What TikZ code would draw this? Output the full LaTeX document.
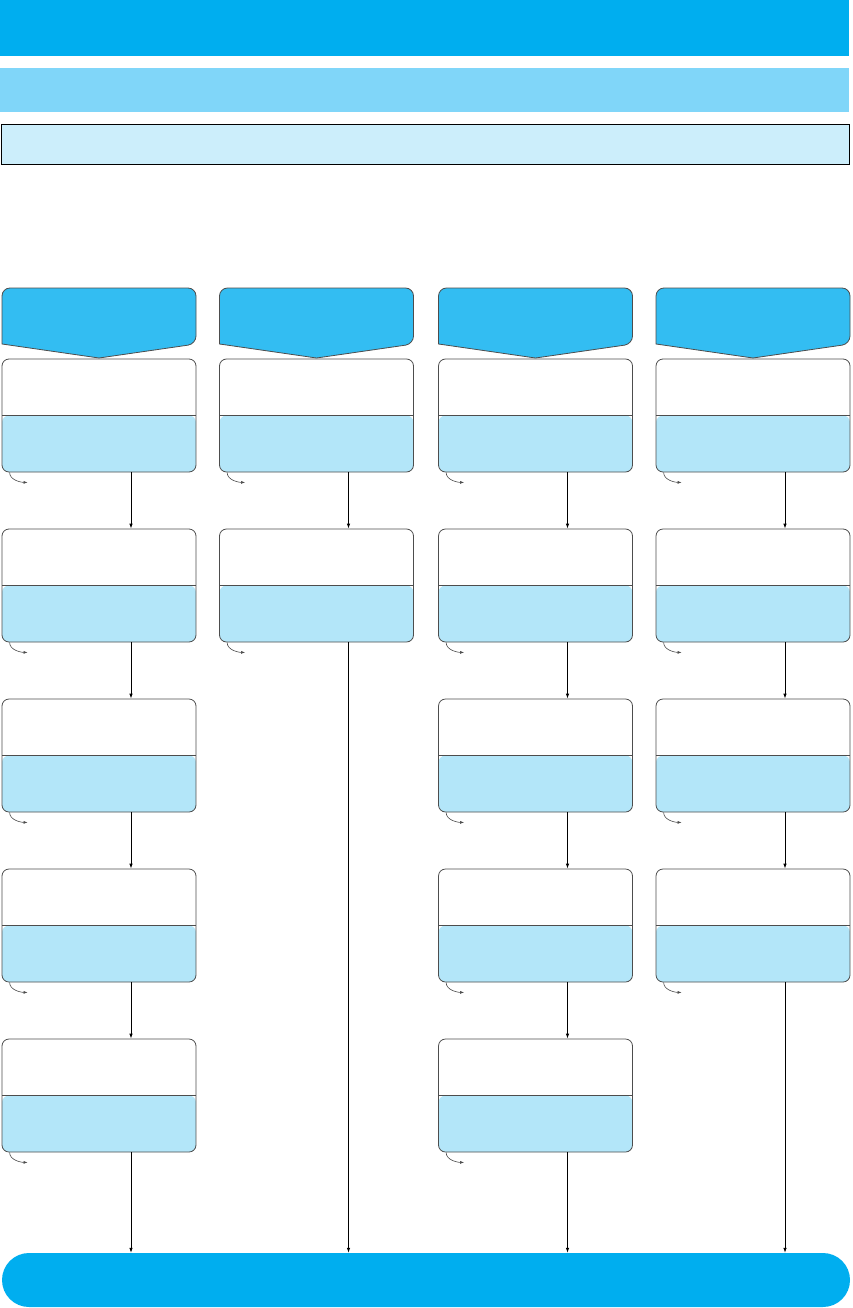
\documentclass[tikz,border=0pt]{standalone}
\usetikzlibrary{arrows.meta}
\definecolor{hdrblue}{HTML}{00AEEF}
\definecolor{barblue}{HTML}{80D6F9}
\definecolor{palebar}{HTML}{CCEEFB}
\definecolor{colblue}{HTML}{33BDF2}
\definecolor{lowblue}{HTML}{B3E6F9}
\definecolor{edgegray}{HTML}{4D4D4D}
\tikzset{
  bar/.style={rectangle, inner sep=0pt, minimum width=849pt, anchor=north west},
  stagebox/.style={rectangle, rounded corners=7pt, draw=edgegray, line width=0.8pt,
    inner sep=0pt, minimum width=194pt, minimum height=113pt,
    path picture={
      \fill[lowblue] (path picture bounding box.west) rectangle (path picture bounding box.south east);
      \draw[edgegray, line width=1.2pt] (path picture bounding box.west) -- (path picture bounding box.east);
    }},
  colhead/.style={fill=colblue, draw=edgegray, line width=0.8pt},
  flow/.style={draw=black, line width=0.8pt, -{Latex[length=5pt,width=3.5pt]}},
  hook/.style={draw=edgegray, line width=0.6pt, -{Latex[length=4pt,width=3pt]}}
}
\begin{document}
\begin{tikzpicture}[x=1pt,y=-1pt]
\useasboundingbox (0,0) rectangle (852,1308);
% top bars
\node[bar, fill=hdrblue, minimum height=56pt] (title) at (0,0) {};
\node[bar, fill=barblue, minimum height=44pt] (subtitle) at (0,68) {};
\node[bar, fill=palebar, draw=black, line width=1pt, minimum width=848pt, minimum height=40pt] (note) at (1,124) {};
% column headers
\foreach \l/\c in {1/99, 2/316.5, 3/535.5, 4/753} {
  \path[colhead] [rounded corners=8pt] (\c-97,344) -- (\c-97,288) -- (\c+97,288) -- (\c+97,344) [sharp corners] -- (\c,358) -- cycle;
  \coordinate (h\l) at (\c,358);
}
% stage boxes
\foreach \l/\c/\n in {1/99/5, 2/316.5/2, 3/535.5/5, 4/753/4} {
  \foreach \r in {1,...,\n} {
    \node[stagebox] (c\l r\r) at (\c, 415.5+170*\r-170) {};
    \draw[hook] ([xshift=8pt]c\l r\r.south west) .. controls +(0,8) and +(-6,0) .. +(18,10);
  }
}
% end bar
\node[rectangle, fill=hdrblue, rounded corners=27pt, inner sep=0pt, minimum width=848pt, minimum height=54pt] (endbar) at (426,1280) {};
% flows
\foreach \l/\n in {1/5, 2/2, 3/5, 4/4} {
  \foreach \r [evaluate=\r as \s using int(\r+1)] in {1,...,\n} {
    \ifnum\r<\n
      \draw[flow] ([xshift=32pt]c\l r\r.south) -- ([xshift=32pt]c\l r\s.north);
    \else
      \coordinate (x\l) at ([xshift=32pt]c\l r\r.south);
      \draw[flow] (x\l) -- (x\l |- endbar.north);
    \fi
  }
}
\end{tikzpicture}
\end{document}
